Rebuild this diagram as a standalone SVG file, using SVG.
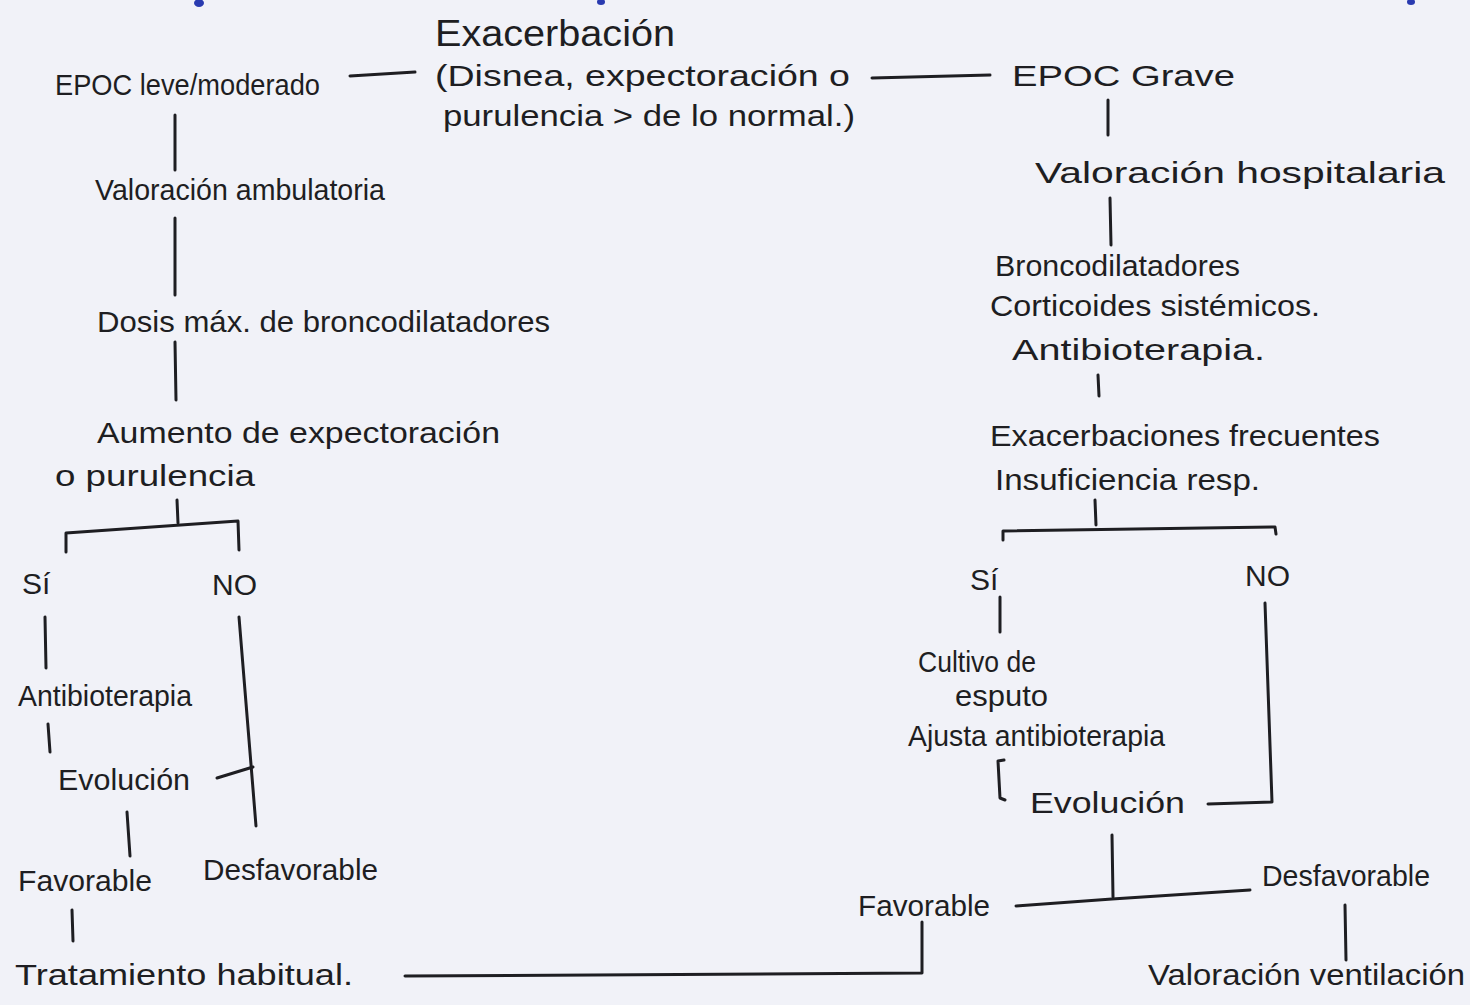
<svg xmlns="http://www.w3.org/2000/svg" width="1470" height="1005" viewBox="0 0 1470 1005">
<style>
  .t{font-family:"Liberation Sans","DejaVu Sans",sans-serif;font-size:30px;fill:#1e1e22}
  .big{font-size:36px}
  .ln{stroke:#1e1e22;stroke-width:3;fill:none;stroke-linecap:round;stroke-linejoin:round}
</style>
<rect width="1470" height="1005" fill="#f1f2f8"/>
<g id="ink-marks" fill="#2a3bb0">
  <ellipse cx="199" cy="3" rx="5" ry="4"/>
  <ellipse cx="601" cy="2" rx="4" ry="3"/>
  <ellipse cx="1411" cy="2" rx="4" ry="3"/>
</g>
<g id="connectors" class="ln">
  <path d="M350 76 L415 72"/>
  <path d="M872 78 L990 75"/>
  <path d="M175 115 L175 170"/>
  <path d="M175 218 L175 295"/>
  <path d="M175 342 L176 400"/>
  <path d="M177 500 L178 523"/>
  <path d="M66 552 L66 533 L238 521 L239 550"/>
  <path d="M45 617 L46 668"/>
  <path d="M48 724 L50 752"/>
  <path d="M239 617 L256 826"/>
  <path d="M217 778 L253 767"/>
  <path d="M127 812 L130 856"/>
  <path d="M72 910 L73 941"/>
  <path d="M405 976 L922 973 L922 922"/>
  <path d="M1108 100 L1108 135"/>
  <path d="M1110 198 L1111 245"/>
  <path d="M1098 375 L1099 396"/>
  <path d="M1095 500 L1096 525"/>
  <path d="M1003 540 L1003 531 L1275 527 L1276 534"/>
  <path d="M1000 597 L1000 632"/>
  <path d="M1004 760 L998 761 L1000 798 L1005 800"/>
  <path d="M1265 603 L1272 802 L1208 804"/>
  <path d="M1112 835 L1113 897"/>
  <path d="M1016 906 L1112 899 L1250 890"/>
  <path d="M1345 905 L1346 960"/>
</g>
<g id="node-exacerbacion">
  <text class="t big" x="435" y="46" textLength="240" lengthAdjust="spacingAndGlyphs">Exacerbación</text>
  <text class="t" x="435" y="86" textLength="415" lengthAdjust="spacingAndGlyphs">(Disnea, expectoración o</text>
  <text class="t" x="443" y="126" textLength="412" lengthAdjust="spacingAndGlyphs">purulencia &gt; de lo normal.)</text>
</g>
<g id="node-epoc-leve">
  <text class="t" x="55" y="95" textLength="265" lengthAdjust="spacingAndGlyphs">EPOC leve/moderado</text>
</g>
<g id="node-valoracion-ambulatoria">
  <text class="t" x="95" y="200" textLength="290" lengthAdjust="spacingAndGlyphs">Valoración ambulatoria</text>
</g>
<g id="node-dosis">
  <text class="t" x="97" y="332" textLength="453" lengthAdjust="spacingAndGlyphs">Dosis máx. de broncodilatadores</text>
</g>
<g id="node-aumento">
  <text class="t" x="97" y="443" textLength="403" lengthAdjust="spacingAndGlyphs">Aumento de expectoración</text>
  <text class="t" x="55" y="486" textLength="200" lengthAdjust="spacingAndGlyphs">o purulencia</text>
</g>
<g id="node-si-left"><text class="t" x="22" y="594">Sí</text></g>
<g id="node-no-left"><text class="t" x="212" y="595">NO</text></g>
<g id="node-antibioterapia-left">
  <text class="t" x="18" y="706" textLength="174" lengthAdjust="spacingAndGlyphs">Antibioterapia</text>
</g>
<g id="node-evolucion-left">
  <text class="t" x="58" y="790" textLength="132" lengthAdjust="spacingAndGlyphs">Evolución</text>
</g>
<g id="node-favorable-left">
  <text class="t" x="18" y="891" textLength="134" lengthAdjust="spacingAndGlyphs">Favorable</text>
</g>
<g id="node-desfavorable-left">
  <text class="t" x="203" y="880" textLength="175" lengthAdjust="spacingAndGlyphs">Desfavorable</text>
</g>
<g id="node-tratamiento">
  <text class="t" x="15" y="985" textLength="338" lengthAdjust="spacingAndGlyphs">Tratamiento habitual.</text>
</g>
<g id="node-epoc-grave">
  <text class="t" x="1012" y="86" textLength="223" lengthAdjust="spacingAndGlyphs">EPOC Grave</text>
</g>
<g id="node-valoracion-hospitalaria">
  <text class="t" x="1035" y="183" textLength="410" lengthAdjust="spacingAndGlyphs">Valoración hospitalaria</text>
</g>
<g id="node-tratamiento-hosp">
  <text class="t" x="995" y="276" textLength="245" lengthAdjust="spacingAndGlyphs">Broncodilatadores</text>
  <text class="t" x="990" y="316" textLength="330" lengthAdjust="spacingAndGlyphs">Corticoides sistémicos.</text>
  <text class="t" x="1012" y="360" textLength="253" lengthAdjust="spacingAndGlyphs">Antibioterapia.</text>
</g>
<g id="node-exacerbaciones-frecuentes">
  <text class="t" x="990" y="446" textLength="390" lengthAdjust="spacingAndGlyphs">Exacerbaciones frecuentes</text>
  <text class="t" x="995" y="490" textLength="265" lengthAdjust="spacingAndGlyphs">Insuficiencia resp.</text>
</g>
<g id="node-si-right"><text class="t" x="970" y="590">Sí</text></g>
<g id="node-no-right"><text class="t" x="1245" y="586">NO</text></g>
<g id="node-cultivo">
  <text class="t" x="918" y="672" textLength="118" lengthAdjust="spacingAndGlyphs">Cultivo de</text>
  <text class="t" x="955" y="706" textLength="93" lengthAdjust="spacingAndGlyphs">esputo</text>
  <text class="t" x="908" y="746" textLength="257" lengthAdjust="spacingAndGlyphs">Ajusta antibioterapia</text>
</g>
<g id="node-evolucion-right">
  <text class="t" x="1030" y="813" textLength="155" lengthAdjust="spacingAndGlyphs">Evolución</text>
</g>
<g id="node-favorable-right">
  <text class="t" x="858" y="916" textLength="132" lengthAdjust="spacingAndGlyphs">Favorable</text>
</g>
<g id="node-desfavorable-right">
  <text class="t" x="1262" y="886" textLength="168" lengthAdjust="spacingAndGlyphs">Desfavorable</text>
</g>
<g id="node-valoracion-ventilacion">
  <text class="t" x="1148" y="985" textLength="317" lengthAdjust="spacingAndGlyphs">Valoración ventilación</text>
</g>
</svg>
